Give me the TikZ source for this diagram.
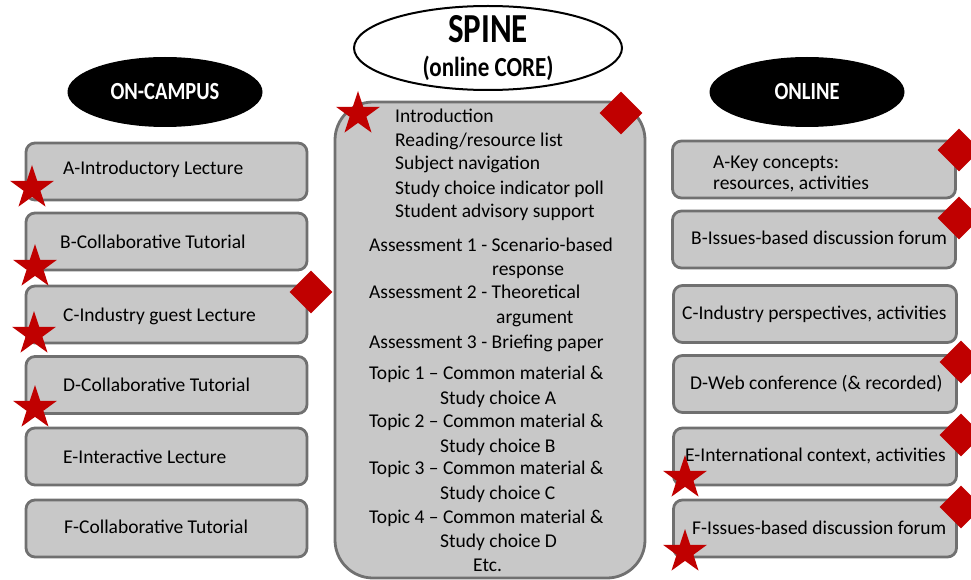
\documentclass[tikz,border=0pt]{standalone}
\usepackage{graphicx}
\usepackage{fontspec}
\setmainfont{Carlito}
\usetikzlibrary{shapes.geometric}
\definecolor{boxfill}{HTML}{C8C8C8}
\definecolor{boxline}{HTML}{707070}
\definecolor{markred}{HTML}{C00000}
\begin{document}
\begin{tikzpicture}[x=1pt,y=-1pt,
  sidebox/.style={draw=boxline, fill=boxfill, line width=2.8pt, rounded corners=9pt, inner sep=0, minimum height=57pt},
  lbox/.style={sidebox, minimum width=281pt},
  rbox/.style={sidebox, minimum width=283pt},
  txt/.style={font=\fontsize{19.5}{23}\selectfont, anchor=base west, inner sep=0},
  starmark/.style={star, star points=5, star point ratio=2.6, fill=markred, minimum size=46pt, inner sep=0},
  diamark/.style={diamond, fill=markred, minimum size=43pt, inner sep=0},
  blackoval/.style={ellipse, fill=black, text=white, minimum width=195pt, minimum height=70pt, inner sep=0, font=\fontsize{20.5}{24}\selectfont\bfseries}
]
\useasboundingbox (0,0) rectangle (971,580);

% header ellipses
\node[blackoval] (oncampus) at (165,92) {\scalebox{1}[1.2]{ON-CAMPUS}};
\node[blackoval] (online) at (807,92) {\scalebox{1}[1.2]{ONLINE}};
\node[ellipse, draw=black, line width=2pt, fill=white, minimum width=268pt, minimum height=84pt, inner sep=0] (spine) at (488,48) {};
\node[font=\fontsize{33}{36}\selectfont\bfseries, inner sep=0] (spinet) at (488,29) {\scalebox{1}[1.25]{SPINE}};
\node[font=\fontsize{23}{26}\selectfont\bfseries, inner sep=0] (spinec) at (488,68) {\scalebox{1}[1.2]{(online CORE)}};

% left column
\node[lbox] (la) at (166.5,171.5) {};
\node[lbox] (lb) at (166.5,241.5) {};
\node[lbox] (lc) at (166.5,314.5) {};
\node[lbox] (ld) at (166.5,385) {};
\node[lbox] (le) at (166.5,456.5) {};
\node[lbox] (lf) at (166.5,528.5) {};
\node[txt] (lat) at (63,174.5) {A-Introductory Lecture};
\node[txt] (lbt) at (60,248.5) {B-Collaborative Tutorial};
\node[txt] (lct) at (63,321.5) {C-Industry guest Lecture};
\node[txt] (ldt) at (63,391.5) {D-Collaborative Tutorial};
\node[txt] (let) at (63,463.5) {E-Interactive Lecture};
\node[txt] (lft) at (64,533.5) {F-Collaborative Tutorial};

% centre spine box
\node[draw=boxline, fill=boxfill, line width=2.8pt, rounded corners=38pt, minimum width=310pt, minimum height=476pt, inner sep=0] (core) at (490,340) {};
\node[txt] (c1) at (395,122.5) {Introduction};
\node[txt] (c2) at (395,146.5) {Reading/resource list};
\node[txt] (c3) at (395,169.5) {Subject navigation};
\node[txt] (c4) at (395,194) {Study choice indicator poll};
\node[txt] (c5) at (395,218) {Student advisory support};
\node[txt] (c6) at (369,251.5) {Assessment 1 - Scenario-based};
\node[txt] (c7) at (492,275.5) {response};
\node[txt] (c8) at (369,298.5) {Assessment 2 - Theoretical};
\node[txt] (c9) at (496,323) {argument};
\node[txt] (c10) at (369,348) {Assessment 3 - Briefing paper};
\node[txt] (c11) at (369,379.5) {Topic 1 – Common material \&};
\node[txt] (c12) at (440,404.5) {Study choice A};
\node[txt] (c13) at (369,427.5) {Topic 2 – Common material \&};
\node[txt] (c14) at (440,452.5) {Study choice B};
\node[txt] (c15) at (369,474.5) {Topic 3 – Common material \&};
\node[txt] (c16) at (440,499.5) {Study choice C};
\node[txt] (c17) at (369,523.5) {Topic 4 – Common material \&};
\node[txt] (c18) at (440,547.5) {Study choice D};
\node[txt] (c19) at (473,571.5) {Etc.};

% right column
\node[rbox] (ra) at (814,169.5) {};
\node[rbox] (rb) at (814,239.5) {};
\node[rbox] (rc) at (815,314) {};
\node[rbox] (rd) at (815,384) {};
\node[rbox] (re) at (815,456.5) {};
\node[rbox] (rf) at (815,528.5) {};
\node[txt] (rat1) at (713,168.5) {A-Key concepts:};
\node[txt] (rat2) at (713,189.5) {resources, activities};
\node[txt] (rbt) at (691,244.5) {B-Issues-based discussion forum};
\node[txt] (rct) at (682,319.5) {C-Industry perspectives, activities};
\node[txt] (rdt) at (690,389.5) {D-Web conference (\& recorded)};
\node[txt] (ret) at (685,461.5) {E-International context, activities};
\node[txt] (rft) at (692,534.5) {F-Issues-based discussion forum};

% markers
\node[starmark] (s1) at (32,188) {};
\node[starmark] (s2) at (35,267) {};
\node[starmark] (s3) at (34,334) {};
\node[starmark] (s4) at (35,408) {};
\node[diamark] (d1) at (311,292) {};
\node[starmark] (s5) at (358,114) {};
\node[diamark] (d2) at (621,113) {};
\node[diamark] (d3) at (959,150) {};
\node[diamark] (d4) at (959,218) {};
\node[diamark] (d5) at (961,362) {};
\node[diamark] (d6) at (961,435) {};
\node[diamark] (d7) at (961,507) {};
\node[starmark] (s6) at (685,478) {};
\node[starmark] (s7) at (685,552) {};
\end{tikzpicture}
\end{document}
